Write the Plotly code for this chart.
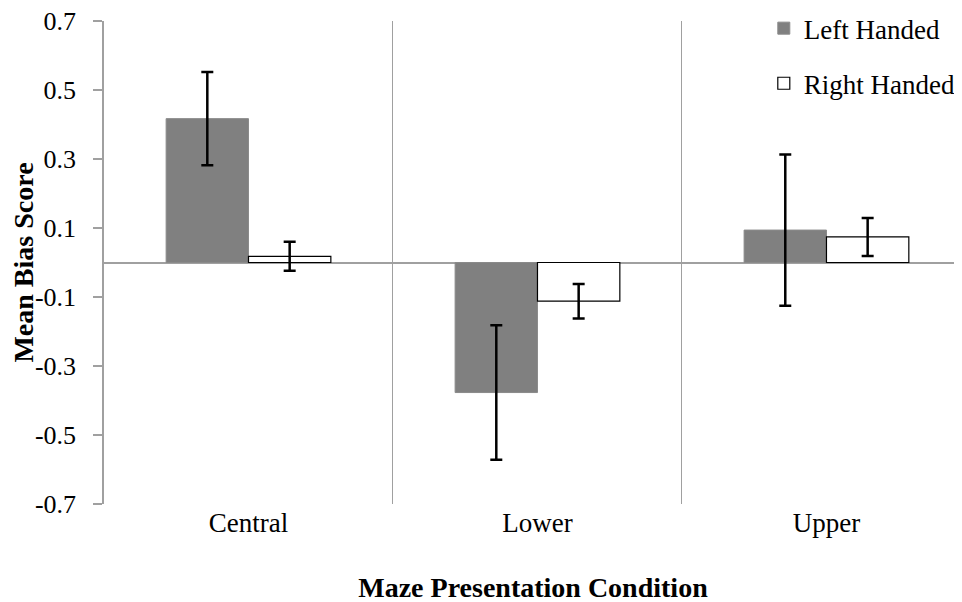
import plotly.graph_objects as go

categories = ["Central", "Lower", "Upper"]
left_handed = [0.417, -0.377, 0.094]
left_err = [0.135, 0.195, 0.219]
right_handed = [0.018, -0.112, 0.074]
right_err = [0.042, 0.050, 0.055]
y_ticks = [-0.7, -0.5, -0.3, -0.1, 0.1, 0.3, 0.5, 0.7]

FONT = "Liberation Serif"

fig = go.Figure()
fig.add_trace(go.Bar(
    x=categories, y=left_handed, name="Left Handed",
    marker=dict(color="#808080", line=dict(color="#8a8a8a", width=1)),
    error_y=dict(type="data", array=left_err, color="black", thickness=2.5, width=6),
    legendgroup="a",
))
fig.add_trace(go.Bar(
    x=categories, y=right_handed, name="Right Handed",
    marker=dict(color="white", line=dict(color="black", width=1.2)),
    error_y=dict(type="data", array=right_err, color="black", thickness=2.5, width=6),
    legendgroup="b",
))

# page body has an 8px margin: margins below compensate so the plot lands where the reference has it
fig.update_layout(
    width=962, height=602,
    margin=dict(l=96, r=8, t=13, b=106, autoexpand=False),
    plot_bgcolor="white", paper_bgcolor="white",
    barmode="group", bargap=0.43, bargroupgap=0,
    font=dict(family=FONT, color="black", size=26),
    showlegend=True,
    legend=dict(x=0.769, y=1.035, xanchor="left", yanchor="top",
                font=dict(family=FONT, size=27), tracegroupgap=17,
                bgcolor="rgba(0,0,0,0)", itemwidth=30),
    xaxis=dict(
        range=[-0.5, 2.469], tickson="boundaries", showgrid=True,
        gridcolor="#a0a0a0", gridwidth=1, ticks="", showline=False,
        tickfont=dict(family=FONT, size=27),
        title=dict(text="<b>Maze Presentation Condition</b>", font=dict(family=FONT, size=28), standoff=40),
        automargin=False,
    ),
    yaxis=dict(
        range=[-0.7, 0.7], tickvals=y_ticks, ticktext=[f"{v:.1f}" for v in y_ticks],
        showgrid=False, zeroline=True, zerolinecolor="#a0a0a0", zerolinewidth=1.5,
        showline=True, linecolor="#a0a0a0", linewidth=1.5,
        ticks="outside", ticklen=9, tickcolor="#a0a0a0", tickwidth=1.5,
        ticklabelstandoff=12, ticklabeloverflow="allow",
        tickfont=dict(family=FONT, size=26),
        title=dict(text="<b>Mean Bias Score</b>", font=dict(family=FONT, size=28), standoff=2),
        automargin=False,
    ),
)

fig.write_html("out.html")
